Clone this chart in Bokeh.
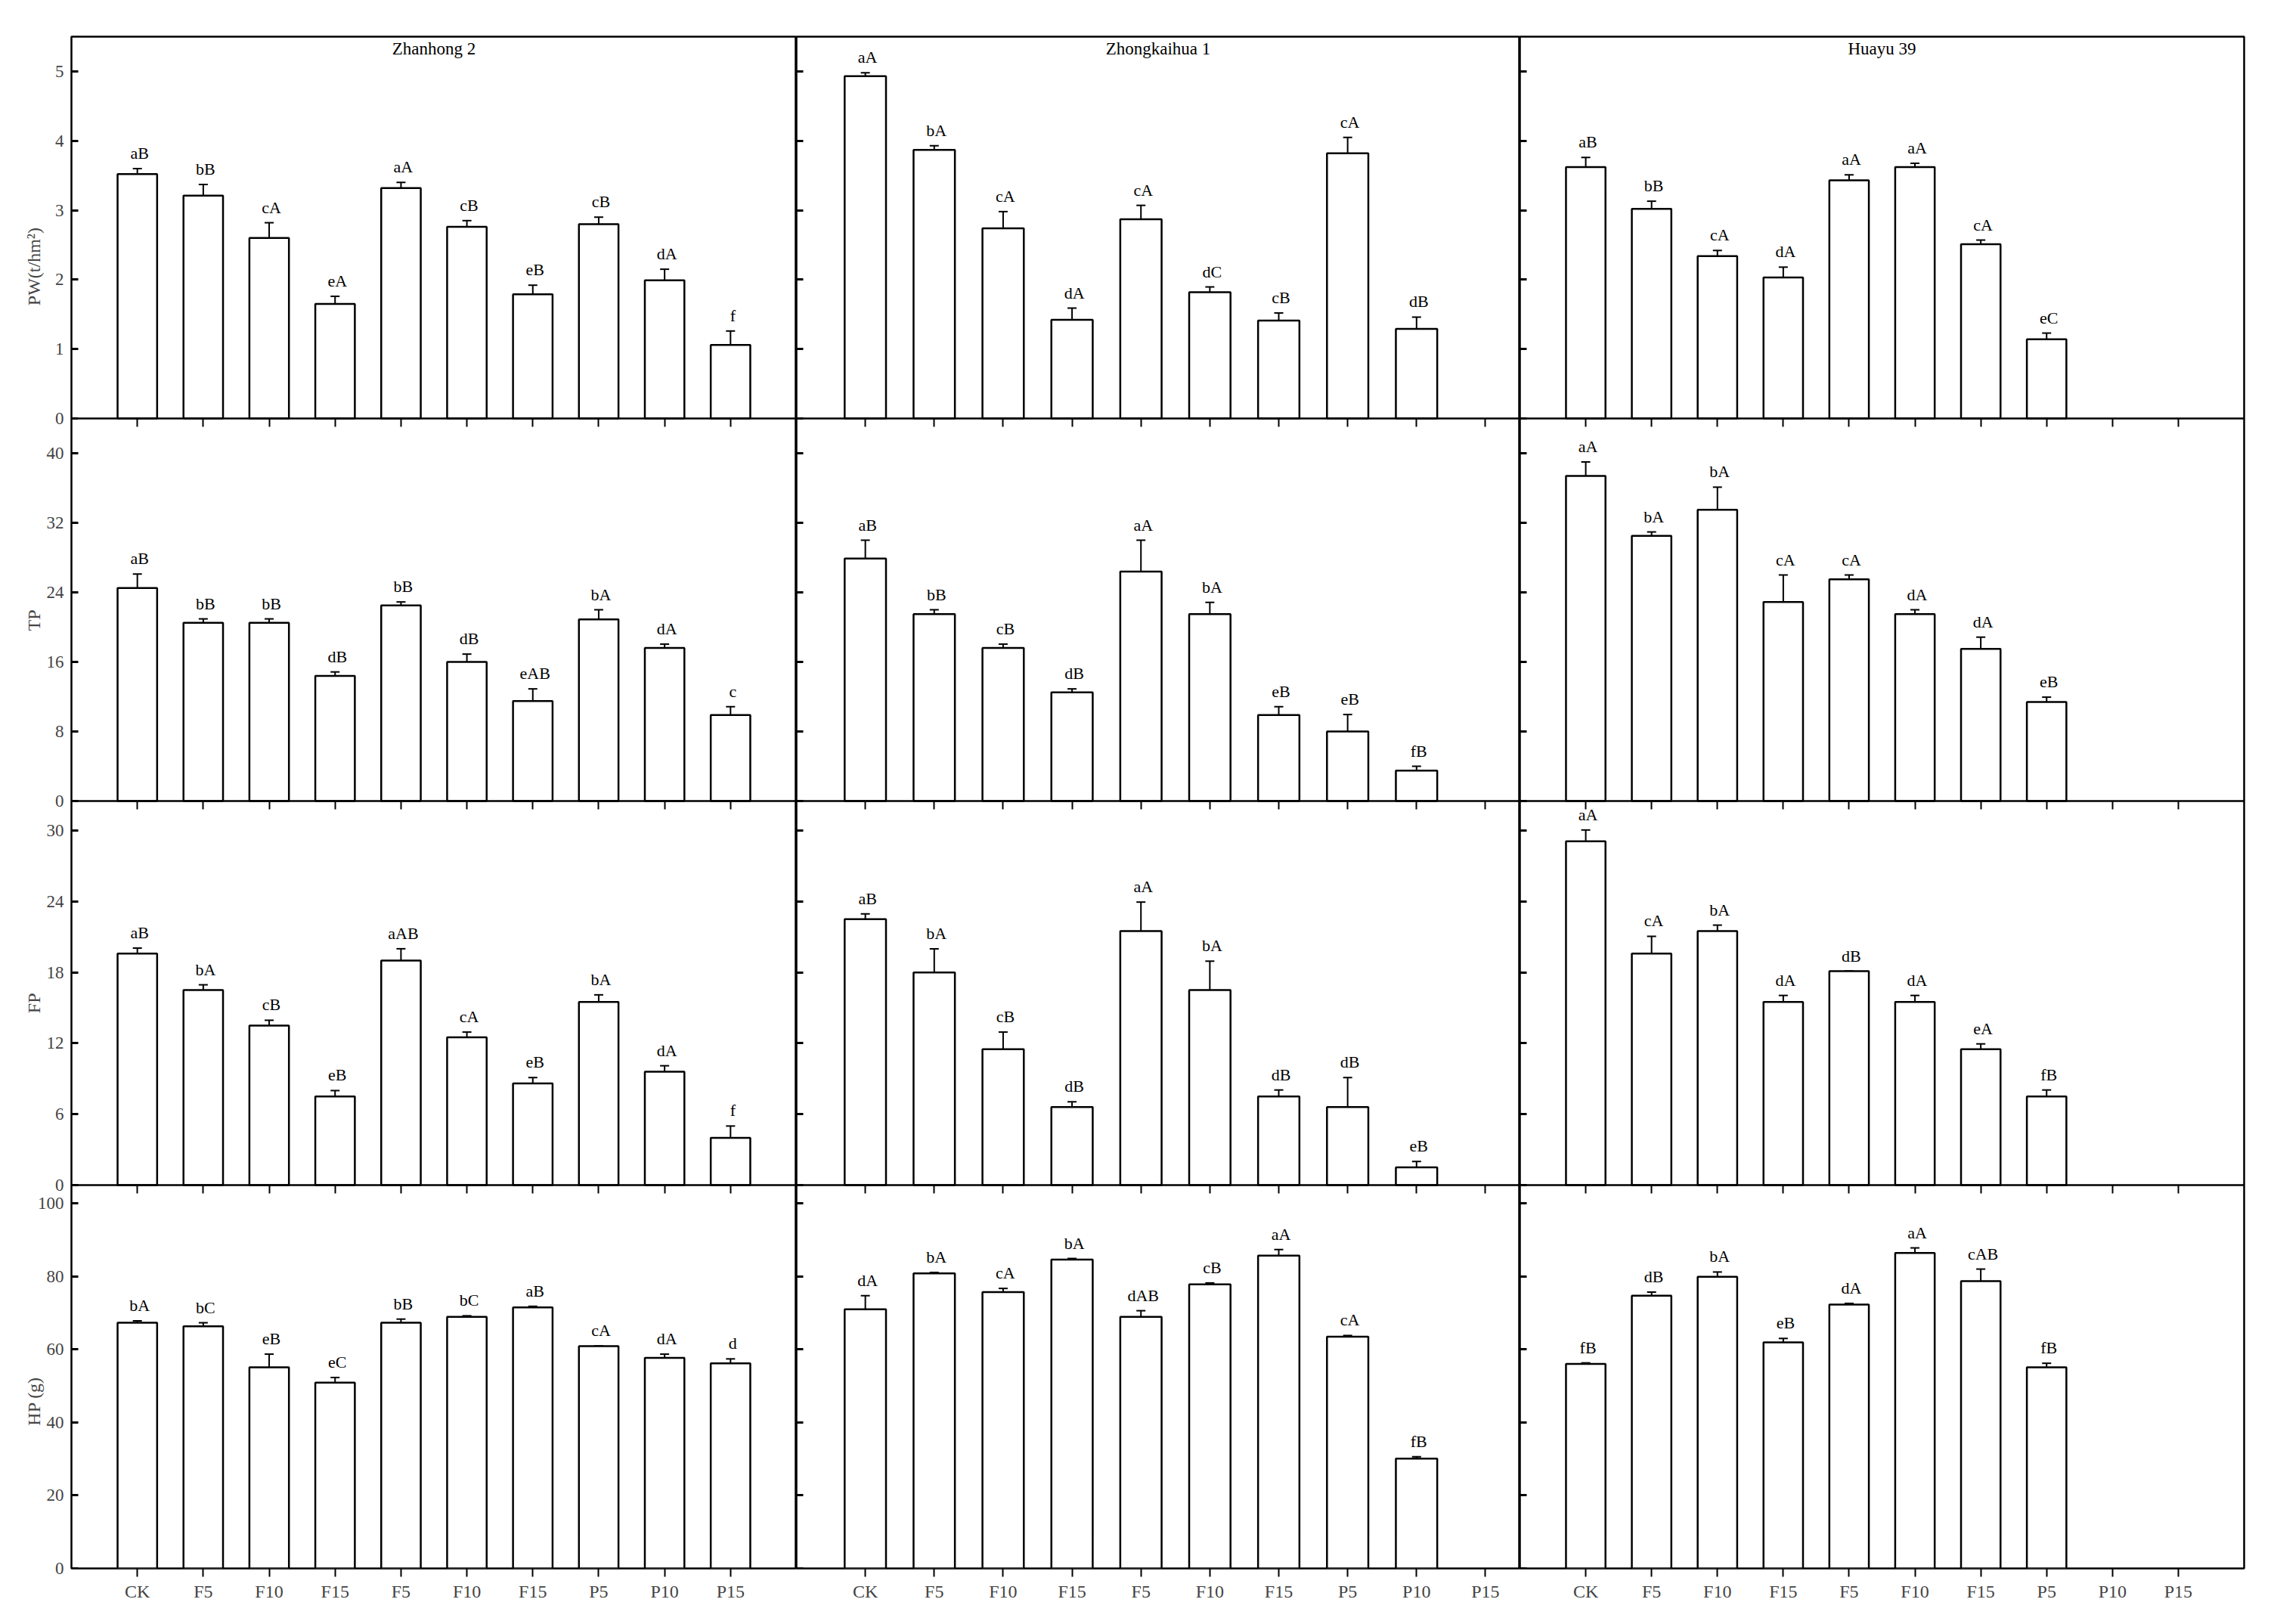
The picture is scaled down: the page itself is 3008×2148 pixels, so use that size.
import math
from bokeh.plotting import figure
from bokeh.models import (Range1d, FixedTicker, LinearAxis, Whisker, TeeHead,
                          ColumnDataSource, LabelSet, Label, Span)
from bokeh.layouts import row
from bokeh.embed import file_html
from bokeh.resources import INLINE

CULTIVARS = ["Zhanhong 2", "Zhongkaihua 1", "Huayu 39"]
TREATMENTS = ["CK", "F5", "F10", "F15", "F5", "F10", "F15", "P5", "P10", "P15"]

# ---- PW (t/hm2) ----
PW_MEAN = [[3.52, 3.21, 2.60, 1.65, 3.32, 2.76, 1.79, 2.80, 1.99, 1.06],
           [4.93, 3.87, 2.74, 1.42, 2.87, 1.82, 1.41, 3.82, 1.29],
           [3.62, 3.02, 2.34, 2.03, 3.43, 3.62, 2.51, 1.14]]
PW_ERR = [[0.08, 0.16, 0.22, 0.11, 0.08, 0.09, 0.13, 0.10, 0.16, 0.20],
          [0.05, 0.06, 0.24, 0.17, 0.20, 0.075, 0.11, 0.23, 0.17],
          [0.14, 0.11, 0.08, 0.15, 0.08, 0.055, 0.06, 0.09]]
PW_SIG = [["aB", "bB", "cA", "eA", "aA", "cB", "eB", "cB", "dA", "f"],
          ["aA", "bA", "cA", "dA", "cA", "dC", "cB", "cA", "dB"],
          ["aB", "bB", "cA", "dA", "aA", "aA", "cA", "eC"]]
PW_TICKS = [0, 1, 2, 3, 4, 5]

# ---- TP ----
TP_MEAN = [[24.5, 20.5, 20.5, 14.4, 22.5, 16.0, 11.5, 20.9, 17.6, 9.9],
           [27.9, 21.5, 17.6, 12.5, 26.4, 21.5, 9.9, 8.0, 3.5],
           [37.4, 30.5, 33.5, 22.9, 25.5, 21.5, 17.5, 11.4]]
TP_ERR = [[1.6, 0.45, 0.45, 0.45, 0.4, 0.9, 1.4, 1.1, 0.45, 0.95],
          [2.1, 0.5, 0.45, 0.4, 3.6, 1.35, 0.95, 1.95, 0.5],
          [1.6, 0.45, 2.6, 3.1, 0.5, 0.5, 1.35, 0.55]]
TP_SIG = [["aB", "bB", "bB", "dB", "bB", "dB", "eAB", "bA", "dA", "c"],
          ["aB", "bB", "cB", "dB", "aA", "bA", "eB", "eB", "fB"],
          ["aA", "bA", "bA", "cA", "cA", "dA", "dA", "eB"]]
TP_TICKS = [0, 8, 16, 24, 32, 40]

# ---- FP ----
FP_MEAN = [[19.6, 16.5, 13.5, 7.5, 19.0, 12.5, 8.6, 15.5, 9.6, 4.0],
           [22.5, 18.0, 11.5, 6.6, 21.5, 16.5, 7.5, 6.6, 1.5],
           [29.1, 19.6, 21.5, 15.5, 18.1, 15.5, 11.5, 7.5]]
FP_ERR = [[0.45, 0.45, 0.45, 0.5, 1.0, 0.45, 0.5, 0.6, 0.5, 1.0],
          [0.45, 2.0, 1.45, 0.45, 2.45, 2.45, 0.55, 2.5, 0.5],
          [0.95, 1.45, 0.5, 0.55, 0.0, 0.55, 0.45, 0.55]]
FP_SIG = [["aB", "bA", "cB", "eB", "aAB", "cA", "eB", "bA", "dA", "f"],
          ["aB", "bA", "cB", "dB", "aA", "bA", "dB", "dB", "eB"],
          ["aA", "cA", "bA", "dA", "dB", "dA", "eA", "fB"]]
FP_TICKS = [0, 6, 12, 18, 24, 30]

# ---- HP (g) ----
HP_MEAN = [[67.3, 66.3, 55.1, 50.9, 67.3, 68.9, 71.5, 60.9, 57.7, 56.2],
           [71.0, 80.8, 75.7, 84.6, 68.9, 77.8, 85.7, 63.5, 30.1],
           [56.0, 74.7, 79.9, 61.9, 72.3, 86.4, 78.7, 55.1]]
HP_ERR = [[0.5, 1.0, 3.6, 1.4, 1.0, 0.3, 0.3, 0.0, 1.0, 1.2],
          [3.7, 0.3, 1.0, 0.3, 1.7, 0.4, 1.65, 0.3, 0.5],
          [0.3, 1.0, 1.3, 1.1, 0.3, 1.4, 3.3, 1.1]]
HP_SIG = [["bA", "bC", "eB", "eC", "bB", "bC", "aB", "cA", "dA", "d"],
          ["dA", "bA", "cA", "bA", "dAB", "cB", "aA", "cA", "fB"],
          ["fB", "dB", "bA", "eB", "dA", "aA", "cAB", "fB"]]
HP_TICKS = [0, 20, 40, 60, 80, 100]

ROWS = [
    ("PW(t/hm²)", PW_MEAN, PW_ERR, PW_SIG, PW_TICKS, 5.5),
    ("TP", TP_MEAN, TP_ERR, TP_SIG, TP_TICKS, 44.0),
    ("FP", FP_MEAN, FP_ERR, FP_SIG, FP_TICKS, 32.5),
    ("HP (g)", HP_MEAN, HP_ERR, HP_SIG, HP_TICKS, 105.0),
]

FONT = "Liberation Serif"
FRAME_W = [959, 957, 958]
BAND_H = [505, 506, 508, 507]          # pixel height of each row band
TOTAL_H = sum(BAND_H)
X_END = [11.0, 10.5, 11.0]
TICK_POS = list(range(1, len(TREATMENTS) + 1))


def band_below(r):
    return sum(BAND_H[r + 1:])


def band_range(r, ytop):
    """Range over the whole frame such that [0, ytop] fills row band r."""
    s = ytop / BAND_H[r]
    start = -band_below(r) * s
    return Range1d(start, start + TOTAL_H * s)


def tick_only_axis(positions, name, tick_in, tick_out, width):
    """Axis that draws only tick marks (as minor ticks, so no labels exist)."""
    ax = LinearAxis(ticker=FixedTicker(ticks=[], minor_ticks=positions),
                    fixed_location=0, y_range_name=name)
    ax.minor_tick_in = tick_in
    ax.minor_tick_out = tick_out
    ax.minor_tick_line_width = width
    ax.minor_tick_line_color = "black"
    ax.major_tick_line_color = None
    ax.axis_line_color = None
    return ax


figs = []
for c in range(3):
    p = figure(frame_width=FRAME_W[c], frame_height=TOTAL_H,
               x_range=Range1d(0, X_END[c]), y_range=Range1d(0, TOTAL_H),
               output_backend="svg", toolbar_location=None,
               x_axis_location=None, y_axis_location=None,
               min_border_left=94 if c == 0 else 0,
               min_border_right=20 if c == 2 else 0,
               min_border_top=48, min_border_bottom=52)
    p.grid.visible = False
    p.outline_line_color = "black"
    p.outline_line_width = 2.5
    p.outline_line_alpha = 1.0
    p.background_fill_color = "white"
    p.border_fill_color = "white"

    for r, (ylabel, means, errs, sigs, yticks, ytop) in enumerate(ROWS):
        name = "r%d" % r
        p.extra_y_ranges[name] = band_range(r, ytop)

        m = means[c]
        e = errs[c]
        xs = list(range(1, len(m) + 1))
        src = ColumnDataSource(dict(
            x=xs, top=m,
            upper=[a + b for a, b in zip(m, e)],
            lower=[a - b for a, b in zip(m, e)],
            sig=sigs[c]))
        p.vbar(x="x", top="top", bottom=0, width=0.6, source=src,
               fill_color="white", line_color="black", line_width=2.5,
               y_range_name=name)
        p.add_layout(Whisker(base="x", upper="upper", lower="lower", source=src,
                             y_range_name=name,
                             line_color="black", line_width=2,
                             upper_head=TeeHead(size=12, line_color="black", line_width=2),
                             lower_head=TeeHead(size=12, line_color="black", line_width=2)))
        p.add_layout(LabelSet(x="x", y="upper", text="sig", source=src,
                              y_range_name=name,
                              text_align="center", text_baseline="bottom",
                              x_offset=3, y_offset=8,
                              text_font=FONT, text_font_size="22px",
                              text_color="black"))

        # inward y ticks of this row band
        p.add_layout(tick_only_axis(yticks, name, 9, 0, 3), "left")

        if r < 3:
            # separator line and the ticks hanging below it
            p.add_layout(Span(location=0, dimension="width", y_range_name=name,
                              line_color="black", line_width=2.5))
            p.add_layout(tick_only_axis(TICK_POS, name, 0, 11, 2), "below")

        if r == 0:
            p.add_layout(Label(x=X_END[c] / 2, y=ytop, y_range_name=name,
                               text=CULTIVARS[c],
                               text_align="center", text_baseline="top",
                               y_offset=-3, text_font=FONT,
                               text_font_size="23px", text_color="black"))

    if c == 0:
        # tick labels of all four row bands on one outer axis
        lab_ticks, lab_over = [], {}
        ttl_ticks, ttl_over = [], {}
        for r, (ylabel, _m, _e, _s, yticks, ytop) in enumerate(ROWS):
            for v in yticks:
                pos = round(band_below(r) + v * BAND_H[r] / ytop, 4)
                lab_ticks.append(pos)
                lab_over[pos] = str(v)
            tpos = round(band_below(r) + BAND_H[r] / 2, 4)
            ttl_ticks.append(tpos)
            ttl_over[tpos] = ylabel
        la = LinearAxis(ticker=FixedTicker(ticks=lab_ticks),
                        major_label_overrides=lab_over)
        la.major_tick_in = 0
        la.major_tick_out = 0
        la.major_tick_line_color = None
        la.minor_tick_line_color = None
        la.axis_line_color = None
        la.major_label_standoff = 10
        la.major_label_text_font = FONT
        la.major_label_text_font_size = "23px"
        p.add_layout(la, "left")

        tl = LinearAxis(ticker=FixedTicker(ticks=ttl_ticks),
                        major_label_overrides=ttl_over,
                        major_label_orientation=math.pi / 2)
        tl.major_tick_in = 0
        tl.major_tick_out = 0
        tl.major_tick_line_color = None
        tl.minor_tick_line_color = None
        tl.axis_line_color = None
        tl.major_label_standoff = 2
        tl.major_label_text_font = FONT
        tl.major_label_text_font_size = "24px"
        p.add_layout(tl, "left")

    xa = LinearAxis(ticker=FixedTicker(ticks=TICK_POS),
                    major_label_overrides={i + 1: t for i, t in enumerate(TREATMENTS)})
    xa.major_tick_in = 0
    xa.major_tick_out = 11
    xa.major_tick_line_width = 2
    xa.major_label_standoff = 6
    xa.major_label_text_font = FONT
    xa.major_label_text_font_size = "24px"
    xa.minor_tick_line_color = None
    xa.axis_line_color = None
    p.add_layout(xa, "below")
    figs.append(p)

layout = row(*figs)
open("out.html", "w").write(file_html(layout, INLINE))
